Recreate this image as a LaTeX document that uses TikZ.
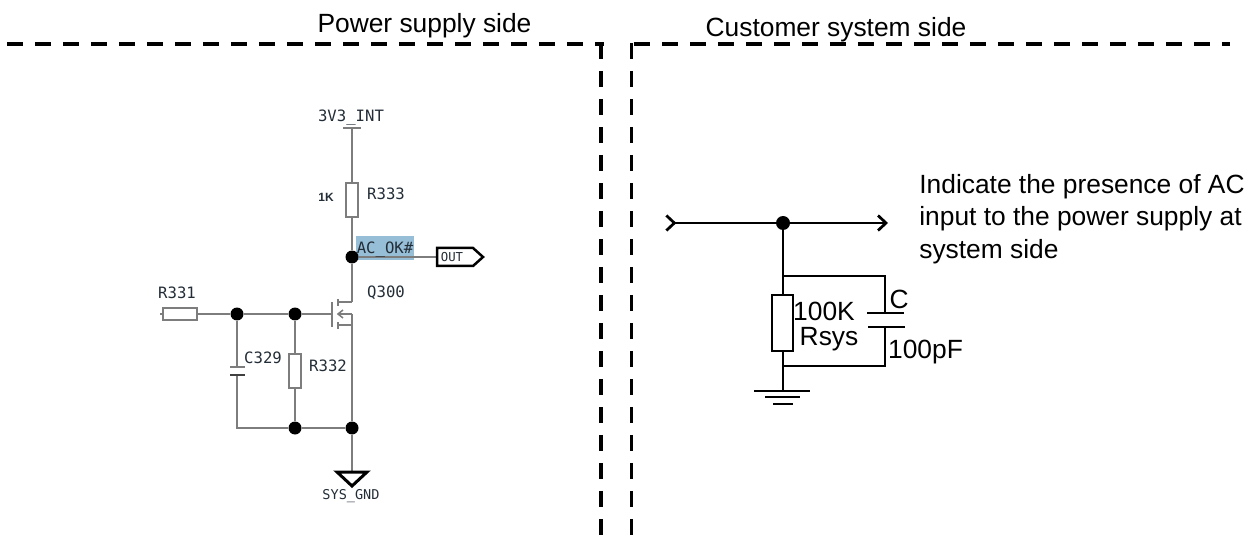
\documentclass[tikz,border=0pt]{standalone}
\usepackage{fontspec}
\setmainfont{Liberation Sans}
\newfontfamily\schemfont{DejaVu Sans Mono}
\usetikzlibrary{arrows.meta}
\definecolor{wiregray}{RGB}{125,125,125}
\definecolor{schemtext}{RGB}{35,45,55}
\definecolor{hilite}{RGB}{150,190,215}
\tikzset{
  x=0.02cm,y=-0.02cm,
  big/.style={inner sep=0,font=\fontsize{15}{18}\selectfont,text=black},
  lbl/.style={inner sep=0,font=\schemfont\fontsize{8.9}{10}\selectfont,text=schemtext},
  wire/.style={draw=wiregray,line width=0.045cm},
  res/.style={draw=wiregray,fill=white,line width=0.03cm,inner sep=0,minimum width=0.24cm,minimum height=0.68cm},
  hres/.style={draw=wiregray,fill=white,line width=0.03cm,inner sep=0,minimum width=0.68cm,minimum height=0.24cm},
  jdot/.style={circle,fill=black,inner sep=0,minimum size=0.26cm},
  blk/.style={draw=black,line width=0.055cm},
  rres/.style={draw=black,fill=white,line width=0.055cm,inner sep=0,minimum width=0.42cm,minimum height=1.12cm},
  divider/.style={draw=black,line width=0.075cm,dash pattern=on 0.32cm off 0.24cm},
  barb/.style={-{Straight Barb[length=0.16cm,width=0.3cm,line width=0.055cm]}},
}
\begin{document}
\begin{tikzpicture}
\useasboundingbox (0,0) rectangle (1246,540);
% dividers
\coordinate (dl0) at (7,44); \coordinate (dl1) at (604,44);
\coordinate (dr0) at (634,44); \coordinate (dr1) at (1229.5,44);
\coordinate (vl0) at (601,43); \coordinate (vl1) at (601,536);
\coordinate (vr0) at (631.5,43); \coordinate (vr1) at (631.5,536);
\draw[divider] (dl0) -- (dl1);
\draw[divider] (dr0) -- (dr1);
\draw[divider] (vl0) -- (vl1);
\draw[divider] (vr0) -- (vr1);
\node[big] (pside) at (424.5,26) {Power supply side};
\node[big] (cside) at (836,30) {Customer system side};
% highlight
\fill[hilite] (356,236) rectangle (414,260);
% left schematic nodes
\coordinate (vcc) at (352,128);
\coordinate (vccl) at (343,128);
\coordinate (vccr) at (361,128);
\node[res] (r333) at (352,200) {};
\node[jdot] (jout) at (352,257) {};
\coordinate (dr) at (352,302);
\coordinate (drt) at (338,302);
\coordinate (so) at (352,325);
\coordinate (sot) at (338,325);
\coordinate (bd) at (352,314);
\coordinate (bt) at (338,314);
\coordinate (gate) at (332,314);
\node[hres] (r331) at (180,314) {};
\coordinate (r331l) at (160,314);
\node[jdot] (j1) at (237,314) {};
\node[jdot] (j2) at (295,314) {};
\node[jdot] (j3) at (295,428) {};
\node[jdot] (j4) at (352,428) {};
\node[res] (r332) at (295,371) {};
\coordinate (c1) at (237,367);
\coordinate (c2) at (237,375);
\coordinate (cb) at (237,428);
\coordinate (gt) at (352,472);
% left wires
\draw[wire] (vcc) -- (r333) -- (jout);
\draw[wire,line width=0.03cm] (vccl) -- (vccr);
\draw[wire] (jout) -- (dr);
\draw[wire,line width=0.03cm] (dr) -- (drt);
\draw[wire,line width=0.03cm] (so) -- (sot);
\draw[wire] (bd) -- (j4);
\draw[wire,line width=0.03cm] (bd) -- (bt);
\draw[wire,line width=0.03cm] (343,310) -- (bt) -- (343,318);
\draw[wire,line width=0.025cm] (338,299) -- (338,306);
\draw[wire,line width=0.025cm] (338,322) -- (338,329);
\draw[wire] (gate) -- (j2) -- (j1) -- (r331) -- (r331l);
\draw[wire] (332,302) -- (332,327);
\draw[wire] (j2) -- (r332) -- (j3);
\draw[wire] (j1) -- (c1);
\draw[wire] (c2) -- (cb) -- (j3) -- (j4) -- (gt);
\draw[wire,line width=0.03cm] (230,367) -- (245,367);
\draw[draw=black!75,line width=0.03cm] (230,375) -- (245,375);
\draw[draw=black,line width=0.06cm,line join=miter] (337,472) -- (367,472) -- (352,486) -- cycle;
\coordinate (outin) at (437,257);
\draw[wire] (jout) -- (outin);
\draw[draw=black,line width=0.05cm,fill=white] (437,248) -- (473,248) -- (483,257) -- (473,266) -- (437,266) -- cycle;
% left labels
\node[lbl] (t3v3) at (351,118) {3V3\_INT};
\node[lbl] (tr333) at (386,194) {R333};
\node[inner sep=0,font=\bfseries\fontsize{6.8}{8}\selectfont,text=schemtext] (t1k) at (326,197) {1K};
\node[lbl] (tac) at (385,250) {AC\_OK\#};
\node[lbl,font=\schemfont\fontsize{7}{8}\selectfont] (tout) at (452,257) {OUT};
\node[lbl] (tr331) at (177,293) {R331};
\node[lbl] (tq) at (386,293) {Q300};
\node[lbl] (tc) at (263,358) {C329};
\node[lbl] (tr332) at (328,366) {R332};
\node[lbl,font=\schemfont\fontsize{7.7}{9}\selectfont] (tgnd) at (351,496) {SYS\_GND};
% right schematic
\coordinate (li) at (665,223);
\coordinate (ro) at (888,223);
\coordinate (tap) at (783,276);
\coordinate (tr) at (885,276);
\coordinate (p1) at (885,313);
\coordinate (p2) at (885,327);
\coordinate (br) at (885,366);
\coordinate (bl) at (783,366);
\coordinate (gnd) at (783,391);
\node[jdot,minimum size=0.28cm] (jr) at (783,223) {};
\draw[blk,{Straight Barb[reversed,length=0.16cm,width=0.3cm,line width=0.055cm]}-] (li) -- (jr);
\draw[blk,barb] (jr) -- (ro);
\draw[blk] (jr) -- (gnd);
\node[rres] (rsys) at (782.5,323) {};
\draw[blk,line join=miter] (tap) -- (tr) -- (p1);
\draw[blk,line join=miter] (p2) -- (br) -- (bl);
\draw[blk] (867,313) -- (904,313);
\draw[blk] (868,327) -- (905,327);
\draw[blk] (754,391) -- (810,391);
\draw[blk] (765,397) -- (800,397);
\draw[blk] (773,404) -- (793,404);
% right labels
\node[big] (t100k) at (824,311) {100K};
\node[big] (trsys) at (829,339) {Rsys};
\node[big] (tcc) at (899,299) {C};
\node[big] (t100p) at (925.5,352) {100pF};
\node[big,anchor=west] (d1) at (919,187) {Indicate the presence of AC};
\node[big,anchor=west] (d2) at (919,219) {input to the power supply at};
\node[big,anchor=west] (d3) at (919,252) {system side};
\end{tikzpicture}
\end{document}
